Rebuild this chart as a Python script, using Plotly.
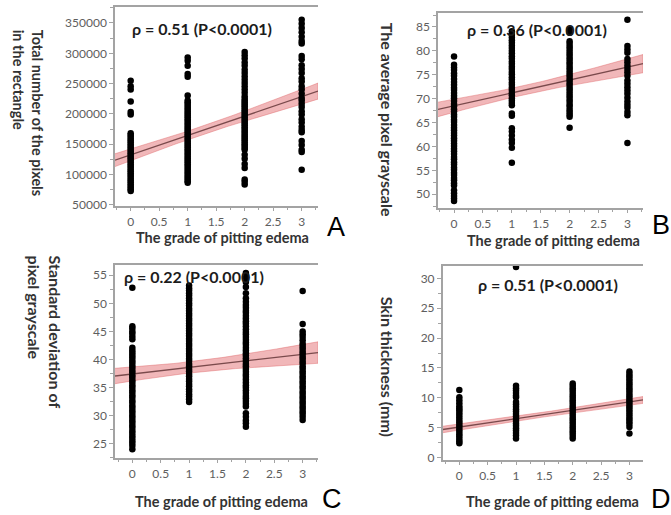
import numpy as np
import plotly.graph_objects as go

# ---- data: value readings per edema grade (0..3) for each measurement ----
grades = [0, 1, 2, 3]

# A: total number of pixels in the rectangle
a_g0 = [254900, 245600, 240200, 220600, 203300, 198900,
        168000, 165100, 162300, 159000, 156200, 153300, 150100, 147200, 144000, 141300,
        138100, 135200, 132300, 129000, 126400, 123100, 120200, 117000, 114100, 111400,
        108000, 105300, 102100, 99200, 96300, 93100, 90200, 87300, 84100, 81200, 78400,
        75300, 73000]
a_g1 = [293000, 287500, 279300, 265800, 261400, 230400,
        222300, 219100, 216200, 213000, 209800, 206900, 203600, 200700, 197400, 194500,
        191200, 188300, 185000, 182100, 178800, 175900, 172600, 169700, 166400, 163500,
        160200, 157300, 154000, 151100, 147800, 144900, 141600, 138700, 135400, 132500,
        129200, 126300, 123000, 120100, 116800, 113900, 110600, 107700, 104400, 101500,
        98200, 95300, 92000, 89100, 86400]
a_g2 = [302200, 296700, 291300, 284800, 279300, 272800, 267400, 261900, 256500, 251100,
        245600, 240200, 234800, 229300, 225000, 221800, 218900, 215400, 212600, 209300,
        206100, 203200, 199800, 196900, 193500, 190600, 187400, 184100, 181300, 178000,
        175200, 171800, 168900, 165600, 162700, 159300, 156400, 153200, 150000, 147100,
        143800, 140800, 132600, 126100, 117400, 110900, 91800, 88000, 83700]
a_g3 = [355400, 348900, 341800, 334800, 327200, 320100, 316300, 295600, 290200, 280400,
        273900, 267400, 258700, 253300, 245600, 240200, 233200, 226100, 222300, 216800,
        211400, 204300, 198900, 191300, 185900, 178800, 173400, 169600, 155400, 148900,
        140800, 137000, 108100]

# B: average pixel grayscale
b_g0 = [78.8, 77.1, 76.5, 76.0, 75.3, 74.8, 74.1, 73.5, 72.9, 72.3, 71.8, 71.2, 70.6,
        70.1, 69.5, 68.9, 68.4, 67.8, 67.3, 66.7, 66.2, 65.6, 65.1, 64.5, 63.9, 63.4,
        62.8, 62.3, 61.7, 61.2, 60.6, 60.1, 59.5, 59.0, 58.4, 57.8, 57.3, 56.7, 56.2,
        55.6, 55.1, 54.5, 54.0, 53.4, 52.9, 52.3, 51.8, 50.8, 50.2, 49.6, 49.1, 48.6]
b_g1 = [84.1, 83.4, 82.8, 82.2, 81.7, 81.1, 80.6, 80.0, 79.5, 78.9, 78.4, 77.8, 77.3,
        76.7, 76.2, 75.6, 75.1, 74.5, 74.0, 73.4, 72.9, 72.3, 71.8, 71.2, 70.7, 70.1,
        69.6, 69.1, 68.6, 66.9, 66.4, 63.8, 63.1, 62.3, 61.4, 60.7, 59.7, 56.6]
b_g2 = [84.5, 83.8, 82.0, 81.5, 80.9, 80.4, 79.8, 79.3, 78.7, 78.2, 77.6, 77.1, 76.5,
        76.0, 75.4, 74.9, 74.3, 73.8, 73.2, 72.7, 72.1, 71.6, 71.0, 70.5, 69.9, 69.4,
        68.8, 68.3, 67.7, 67.2, 66.7, 66.2, 63.9]
b_g3 = [86.5, 81.0, 80.3, 79.6, 78.3, 77.6, 76.9, 76.2, 75.5, 74.8, 73.8, 73.1, 72.4,
        71.7, 71.0, 70.2, 69.4, 68.7, 68.1, 67.2, 66.5, 60.7]

# C: standard deviation of pixel grayscale
c_g0 = [52.8, 45.9, 45.5, 45.0, 44.6, 44.1, 43.6, 42.1, 41.6, 41.2, 40.8, 40.4, 39.9,
        39.5, 39.0, 38.6, 38.1, 37.7, 37.2, 36.8, 36.3, 35.9, 35.4, 35.0, 34.5, 34.1,
        33.6, 33.2, 32.7, 32.3, 31.8, 31.4, 30.9, 30.5, 30.0, 29.6, 29.1, 28.7, 28.2,
        27.8, 27.3, 26.9, 26.4, 26.0, 25.5, 25.1, 24.6, 24.0]
c_g1 = [53.2, 52.7, 52.3, 51.8, 51.4, 50.9, 50.5, 50.0, 49.6, 49.1, 48.7, 48.2, 47.8,
        47.3, 46.9, 46.4, 46.0, 45.5, 45.1, 44.6, 44.2, 43.7, 43.3, 42.8, 42.4, 41.9,
        41.5, 41.0, 40.6, 40.1, 39.7, 39.2, 38.8, 38.3, 37.9, 37.4, 37.0, 36.5, 36.1,
        35.6, 35.2, 34.7, 34.3, 33.8, 33.4, 32.9, 32.4]
c_g2 = [55.4, 54.6, 53.8, 52.9, 51.8, 50.9, 50.3, 49.7, 49.2, 48.7, 48.3, 47.8, 47.3,
        46.8, 46.4, 45.9, 45.4, 44.9, 44.5, 44.0, 43.5, 43.0, 42.6, 42.1, 41.6, 41.1,
        40.7, 40.2, 39.7, 39.2, 38.8, 38.3, 37.8, 37.3, 36.9, 36.4, 35.9, 35.4, 35.0,
        34.5, 34.0, 33.5, 33.1, 32.6, 32.1, 31.6, 30.4, 29.8, 29.1, 28.6, 28.0]
c_g3 = [52.2, 46.3, 45.0, 44.5, 44.0, 43.4, 42.8, 42.4, 42.0, 41.5, 41.1, 40.6, 40.2,
        39.7, 39.3, 38.8, 38.4, 37.9, 37.5, 37.0, 36.6, 36.1, 35.7, 35.2, 34.8, 34.3,
        33.9, 33.4, 33.0, 32.5, 32.1, 31.6, 31.2, 30.7, 30.3, 29.8, 29.2]

# D: skin thickness (mm)
d_g0 = [11.3, 10.1, 9.6, 9.1, 8.6, 8.2, 7.9, 7.5, 7.1, 6.7, 6.3, 5.9, 5.5, 5.1, 4.7,
        4.3, 3.9, 3.5, 3.1, 2.7, 2.4]
d_g1 = [31.9, 12.0, 11.6, 11.2, 10.8, 10.4, 10.1, 9.3, 8.9, 8.5, 8.1, 7.7, 7.3, 6.9,
        6.5, 6.1, 5.7, 5.3, 4.9, 4.5, 4.1, 3.7, 3.2]
d_g2 = [12.4, 12.0, 11.6, 11.2, 10.8, 10.4, 10.0, 9.6, 9.2, 8.8, 8.4, 8.0, 7.6, 7.2,
        6.8, 6.4, 6.0, 5.6, 5.2, 4.8, 4.4, 4.0, 3.6, 3.2]
d_g3 = [14.4, 14.0, 13.6, 13.2, 12.8, 12.4, 12.0, 11.6, 11.2, 10.8, 10.4, 10.0, 9.6,
        9.2, 8.8, 8.4, 8.0, 7.6, 7.2, 6.8, 6.4, 6.0, 5.6, 5.1, 4.0]

# linear fits: intercept, slope, CI half-width at mean x, slope SE, mean x
fit_a = [132500, 32000, 7000, 5400, 1.2]
fit_b = [68.5, 2.7, 0.95, 0.80, 1.2]
fit_c = [37.4, 1.17, 1.0, 0.72, 1.0]
fit_d = [5.1, 1.4, 0.4, 0.22, 1.4]

rho_labels = ["ρ = 0.51 (P<0.0001)", "ρ = 0.36 (P<0.0001)",
              "ρ = 0.22 (P<0.0001)", "ρ = 0.51 (P<0.0001)"]
y_titles = ["Total number of the pixels<br>in the rectangle",
            "The average pixel grayscale",
            "Standard deviation of<br>pixel grayscale",
            "Skin thickness (mm)"]
x_title = "The grade of pitting edema"
panel_letters = ["A", "B", "C", "D"]

panels = [
    dict(groups=[a_g0, a_g1, a_g2, a_g3], fit=fit_a,
         xdom=[0.1714, 0.4739], ydom=[0.5961, 0.9864],
         xr=[-0.275, 3.286], yr=[48800, 376500], dt=50000, mdt=25000, fmt="d",
         rho=(0.301, 0.9437), ytit=(0.041, 0.7796), ytsize=14.5,
         xtit=(0.3316, 0.534), letter=(0.500, 0.555)),
    dict(groups=[b_g0, b_g1, b_g2, b_g3], fit=fit_b,
         xdom=[0.6528, 0.9583], ydom=[0.5922, 0.9742],
         xr=[-0.277, 3.27], yr=[47.2, 87.9], dt=5, mdt=2.5, fmt="",
         rho=(0.8003, 0.9417), ytit=(0.578, 0.765), ytsize=16,
         xtit=(0.8256, 0.528), letter=(0.985, 0.557)),
    dict(groups=[c_g0, c_g1, c_g2, c_g3], fit=fit_c,
         xdom=[0.1714, 0.4739], ydom=[0.1010, 0.4790],
         xr=[-0.305, 3.27], yr=[22.5, 56.8], dt=5, mdt=2.5, fmt="",
         rho=(0.2891, 0.4563), ytit=(0.067, 0.3466), ytsize=16,
         xtit=(0.3308, 0.0155), letter=(0.495, 0.019)),
    dict(groups=[d_g0, d_g1, d_g2, d_g3], fit=fit_d,
         xdom=[0.6598, 0.9583], ydom=[0.0971, 0.4777],
         xr=[-0.293, 3.24], yr=[-0.35, 32.1], dt=5, mdt=2.5, fmt="",
         rho=(0.8167, 0.4408), ytit=(0.5768, 0.2796), ytsize=16,
         xtit=(0.8227, 0.0155), letter=(0.985, 0.019)),
]

AXIS_GRAY = "#a3a3a3"
TICK_FONT = dict(family="Lato", size=12, color="#5e5e5e")

fig = go.Figure()
annotations = []

for i, p in enumerate(panels):
    n = "" if i == 0 else str(i + 1)
    xa, ya = "x" + n, "y" + n

    # confidence band of the fitted line
    b0, b1, h0, se, xm = p["fit"]
    xs = np.linspace(p["xr"][0], p["xr"][1], 60)
    fit_y = b0 + b1 * xs
    hw = np.sqrt(h0 ** 2 + (se * (xs - xm)) ** 2)
    fig.add_trace(go.Scatter(
        x=np.concatenate([xs, xs[::-1]]),
        y=np.concatenate([fit_y + hw, (fit_y - hw)[::-1]]),
        fill="toself", fillcolor="rgba(228,112,116,0.50)",
        line=dict(color="rgba(222,100,104,0.55)", width=0.8),
        mode="lines", hoverinfo="skip", showlegend=False, xaxis=xa, yaxis=ya))
    # fitted line
    fig.add_trace(go.Scatter(
        x=xs, y=fit_y, mode="lines", line=dict(color="#7a4a4c", width=1.3),
        hoverinfo="skip", showlegend=False, xaxis=xa, yaxis=ya))

    # observations
    px, py = [], []
    for g, vals in zip(grades, p["groups"]):
        px += [g] * len(vals)
        py += vals
    fig.add_trace(go.Scatter(
        x=px, y=py, mode="markers",
        marker=dict(color="black", size=6.5, line=dict(width=0)),
        showlegend=False, xaxis=xa, yaxis=ya))

    common = dict(showline=True, linecolor=AXIS_GRAY, linewidth=1.5,
                  ticks="outside", ticklen=4, tickcolor=AXIS_GRAY, tickwidth=1,
                  showgrid=False, zeroline=False, tickfont=TICK_FONT)
    fig.layout["xaxis" + n] = dict(
        domain=p["xdom"], range=p["xr"], anchor=ya, tick0=0, dtick=0.5,
        mirror=True,
        minor=dict(ticks="outside", ticklen=3, tickcolor=AXIS_GRAY, dtick=0.25, tick0=0),
        **common)
    fig.layout["yaxis" + n] = dict(
        domain=p["ydom"], range=p["yr"], anchor=xa, tick0=0, dtick=p["dt"],
        tickformat=p["fmt"],
        minor=dict(ticks="outside", ticklen=3, tickcolor=AXIS_GRAY, dtick=p["mdt"], tick0=0),
        **common)

    annotations += [
        dict(text="<b>" + rho_labels[i] + "</b>", x=p["rho"][0], y=p["rho"][1],
             xref="paper", yref="paper", showarrow=False, xanchor="center", yanchor="middle",
             font=dict(family="Lato", size=16, color="#1c1c1c")),
        dict(text="<b>" + y_titles[i] + "</b>", x=p["ytit"][0], y=p["ytit"][1],
             xref="paper", yref="paper", showarrow=False, textangle=90, align="left",
             xanchor="center", yanchor="middle",
             font=dict(family="Lato", size=p["ytsize"], color="#333333")),
        dict(text="<b>" + x_title + "</b>", x=p["xtit"][0], y=p["xtit"][1],
             xref="paper", yref="paper", showarrow=False, xanchor="center", yanchor="middle",
             font=dict(family="Lato", size=14.5, color="#333333")),
        dict(text=panel_letters[i], x=p["letter"][0], y=p["letter"][1],
             xref="paper", yref="paper", showarrow=False, xanchor="center", yanchor="middle",
             font=dict(family="Liberation Sans", size=27, color="black")),
    ]

fig.update_layout(
    width=671, height=515, margin=dict(l=0, r=0, t=0, b=0),
    paper_bgcolor="white", plot_bgcolor="white",
    annotations=annotations, showlegend=False)

fig.write_html("out.html")
